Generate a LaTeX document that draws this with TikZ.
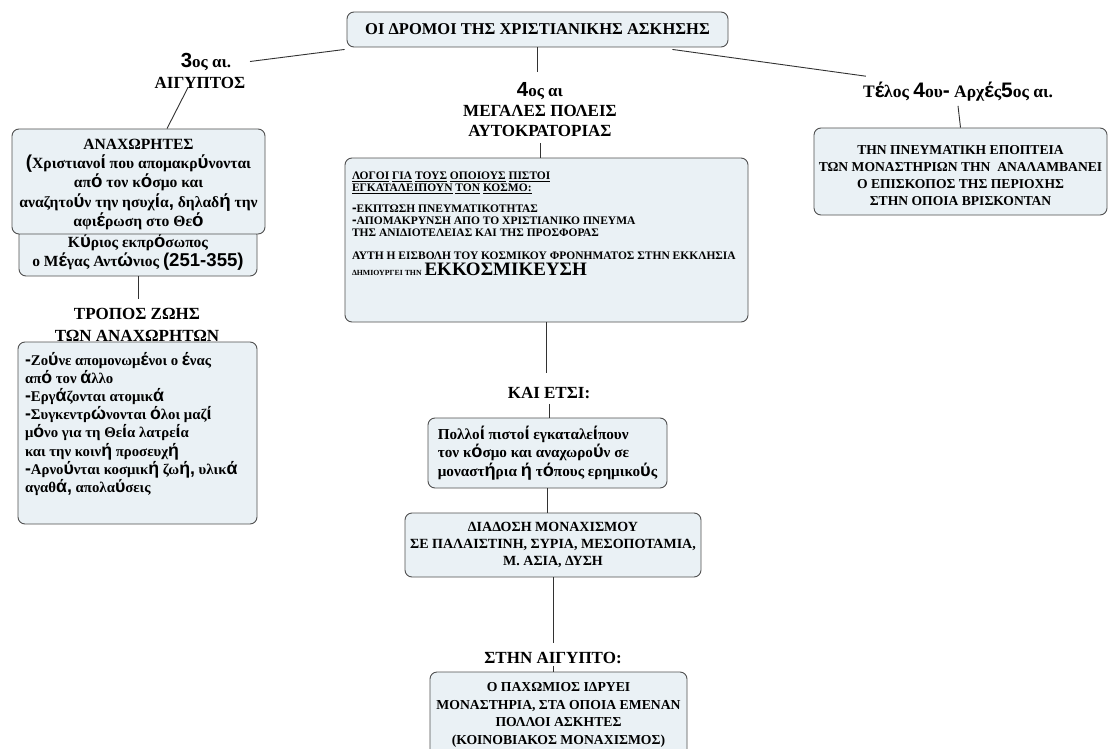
\documentclass[tikz,border=0pt]{standalone}
\usepackage{fontspec}
\setmainfont{Liberation Serif}
\newfontfamily\sansgr{Liberation Sans}[Scale=1.2]
\usetikzlibrary{calc}
\definecolor{boxfill}{RGB}{234,241,245}
\definecolor{boxline}{RGB}{80,80,80}
\definecolor{lineclr}{RGB}{50,50,50}
\newcommand\sx[1]{{\sansgr\bfseries #1}}
\newcommand\fs[2]{\fontsize{#1}{#2}\selectfont}
\tikzset{
  box/.style={draw=boxline, fill=boxfill, rounded corners=7pt, line width=0.9pt, inner sep=0pt},
  lbl/.style={inner sep=0pt, align=center},
  conn/.style={draw=lineclr, line width=0.9pt}
}
\begin{document}
\begin{tikzpicture}[x=1pt,y=-1pt]
\useasboundingbox (0,0) rectangle (1108,749);
\clip (0,0) rectangle (1108,749);
\fill[white] (0,0) rectangle (1108,749);

% title
\node[box, minimum width=381pt, minimum height=35pt, font=\bfseries\fs{16.5}{20}] (title) at (537.5,29.5) {ΟΙ ΔΡΟΜΟΙ ΤΗΣ ΧΡΙΣΤΙΑΝΙΚΗΣ ΑΣΚΗΣΗΣ};

% left column
\node[lbl, font=\bfseries\fs{17}{21}] (l3) at (200,70.5) {\hspace*{12pt}\sx{3}ος αι.\\ΑΙΓΥΠΤΟΣ};
\node[box, minimum width=238pt, minimum height=48pt, align=center, font=\bfseries\fs{15.5}{19}] (kyr) at (138,252) {Κ\sx{ύ}ριος εκπρ\sx{ό}σωπος\\ο Μ\sx{έ}γας Αντ\sx{ώ}νιος \sx{(251-355)}};
\node[box, minimum width=253pt] (ana) at (138.5,181.5) {\begin{minipage}[c][105pt][t]{249pt}\centering\bfseries\fs{15.6}{19.2}\rule{0pt}{20.5pt}ΑΝΑΧΩΡΗΤΕΣ\\\sx{(}Χριστιανο\sx{ί} που απομακρ\sx{ύ}νονται\\απ\sx{ό} τον κ\sx{ό}σμο και\\αναζητο\sx{ύ}ν την ησυχ\sx{ί}α\sx{,} δηλαδ\sx{ή} την\\αφι\sx{έ}ρωση στο Θε\sx{ό}\end{minipage}};
\node[box, minimum width=239pt] (life) at (137.5,433) {\begin{minipage}[c][182pt][t]{225pt}\raggedright\bfseries\fs{14.8}{18.1}\rule{0pt}{23.5pt}\sx{-}Ζο\sx{ύ}νε απομονωμ\sx{έ}νοι ο \sx{έ}νας\\απ\sx{ό} τον \sx{ά}λλο\\\sx{-}Εργ\sx{ά}ζονται ατομικ\sx{ά}\\\sx{-}Συγκεντρ\sx{ώ}νονται \sx{ό}λοι μαζ\sx{ί}\\μ\sx{ό}νο για τη Θε\sx{ί}α λατρε\sx{ί}α\\και την κοιν\sx{ή} προσευχ\sx{ή}\\\sx{-}Αρνο\sx{ύ}νται κοσμικ\sx{ή} ζω\sx{ή,} υλικ\sx{ά}\\αγαθ\sx{ά,} απολα\sx{ύ}σεις\end{minipage}};
\node[lbl, font=\bfseries\fs{17}{22}] (trop) at (137,324.5) {ΤΡΟΠΟΣ ΖΩΗΣ\\ΤΩΝ ΑΝΑΧΩΡΗΤΩΝ};

% centre column
\node[lbl, font=\bfseries\fs{17}{20}] (l4) at (540,110) {\sx{4}ος αι\\ΜΕΓΑΛΕΣ ΠΟΛΕΙΣ\\ΑΥΤΟΚΡΑΤΟΡΙΑΣ};
\node[box, minimum width=403pt] (cen) at (546.5,240) {\begin{minipage}[c][164pt][t]{389pt}\raggedright\bfseries\fs{11.5}{12}\rule{0pt}{21.5pt}\underline{ΛΟΓΟΙ} \underline{ΓΙΑ} \underline{ΤΟΥΣ} \underline{ΟΠΟΙΟΥΣ} \underline{ΠΙΣΤΟΙ}\\\underline{ΕΓΚΑΤΑΛΕΙΠΟΥΝ} \underline{ΤΟΝ} \underline{ΚΟΣΜΟ:}\\[9pt]\sx{-}ΕΚΠΤΩΣΗ ΠΝΕΥΜΑΤΙΚΟΤΗΤΑΣ\\\sx{-}ΑΠΟΜΑΚΡΥΝΣΗ ΑΠΟ ΤΟ ΧΡΙΣΤΙΑΝΙΚΟ ΠΝΕΥΜΑ\\ΤΗΣ ΑΝΙΔΙΟΤΕΛΕΙΑΣ ΚΑΙ ΤΗΣ ΠΡΟΣΦΟΡΑΣ\\[11pt]ΑΥΤΗ Η ΕΙΣΒΟΛΗ ΤΟΥ ΚΟΣΜΙΚΟΥ ΦΡΟΝΗΜΑΤΟΣ ΣΤΗΝ ΕΚΚΛΗΣΙΑ\\[2pt]{\fs{7.8}{12}ΔΗΜΙΟΥΡΓΕΙ ΤΗΝ} {\fs{19}{16}ΕΚΚΟΣΜΙΚΕΥΣΗ}\end{minipage}};
\node[lbl, font=\bfseries\fs{17}{20}] (kai) at (549,393) {ΚΑΙ ΕΤΣΙ:};
\node[box, minimum width=239pt, minimum height=70pt, align=left, font=\bfseries\fs{15.2}{18.5}] (pol) at (547.5,453) {Πολλο\sx{ί} πιστο\sx{ί} εγκαταλε\sx{ί}πουν\\τον κ\sx{ό}σμο και αναχωρο\sx{ύ}ν σε\\μοναστ\sx{ή}ρια \sx{ή} τ\sx{ό}πους ερημικο\sx{ύ}ς};
\node[box, minimum width=296pt, minimum height=64pt, align=center, font=\bfseries\fs{14}{17}] (dia) at (553,545) {ΔΙΑΔΟΣΗ ΜΟΝΑΧΙΣΜΟΥ\\ΣΕ ΠΑΛΑΙΣΤΙΝΗ, ΣΥΡΙΑ, ΜΕΣΟΠΟΤΑΜΙΑ,\\Μ. ΑΣΙΑ, ΔΥΣΗ};
\node[lbl, font=\bfseries\fs{17}{20}] (eg) at (553,658) {ΣΤΗΝ ΑΙΓΥΠΤΟ:};
\node[box, minimum width=257pt] (bot) at (558.5,714) {\begin{minipage}[c][84pt][t]{254pt}\centering\bfseries\fs{13.7}{17.5}\rule{0pt}{19.5pt}Ο ΠΑΧΩΜΙΟΣ ΙΔΡΥΕΙ\\ΜΟΝΑΣΤΗΡΙΑ, ΣΤΑ ΟΠΟΙΑ ΕΜΕΝΑΝ\\ΠΟΛΛΟΙ ΑΣΚΗΤΕΣ\\(ΚΟΙΝΟΒΙΑΚΟΣ ΜΟΝΑΧΙΣΜΟΣ)\end{minipage}};

% right column
\node[lbl, font=\bfseries\fs{17.5}{20}] (lr) at (958,92) {Τ\sx{έ}λος \sx{4}ου\sx{-} Αρχ\sx{έ}ς\sx{5}ος αι.};
\node[box, minimum width=293pt] (rb) at (960.5,171.5) {\begin{minipage}[c][87pt][t]{291pt}\centering\bfseries\fs{13.6}{17}\rule{0pt}{26.5pt}ΤΗΝ ΠΝΕΥΜΑΤΙΚΗ ΕΠΟΠΤΕΙΑ\\ΤΩΝ ΜΟΝΑΣΤΗΡΙΩΝ ΤΗΝ \ ΑΝΑΛΑΜΒΑΝΕΙ\\Ο ΕΠΙΣΚΟΠΟΣ ΤΗΣ ΠΕΡΙΟΧΗΣ\\ΣΤΗΝ ΟΠΟΙΑ ΒΡΙΣΚΟΝΤΑΝ\end{minipage}};

% connectors
\draw[conn] ($(title.south west)+(-2,2)$) -- ($(l3.center)+(50,-9)$);
\draw[conn] ($(l3.center)+(-12,17)$) -- ($(ana.north)+(28.5,0)$);
\draw[conn] (kyr.south) -- ($(kyr.south |- trop.north)+(0,-9)$);
\draw[conn] (title.south) -- ($(title.south |- l4.north)+(0,-11)$);
\draw[conn] ($(l4.south)+(0,6)$) -- (l4.south |- cen.north);
\draw[conn] (cen.south) -- ($(cen.south |- kai.north)+(0,-14)$);
\draw[conn] ($(kai.south)+(0,5)$) -- (kai.south |- pol.north);
\draw[conn] (pol.south) -- (pol.south |- dia.north);
\draw[conn] (dia.south) -- ($(dia.south |- eg.north)+(0,-9)$);
\draw[conn] ($(eg.south)+(0,2)$) -- (eg.south |- bot.north);
\draw[conn] ($(title.south east)+(-56,2)$) -- ($(lr.north west)+(3,-6)$);
\draw[conn] ($(lr.south)+(0,4)$) -- (rb.north);
\end{tikzpicture}
\end{document}
